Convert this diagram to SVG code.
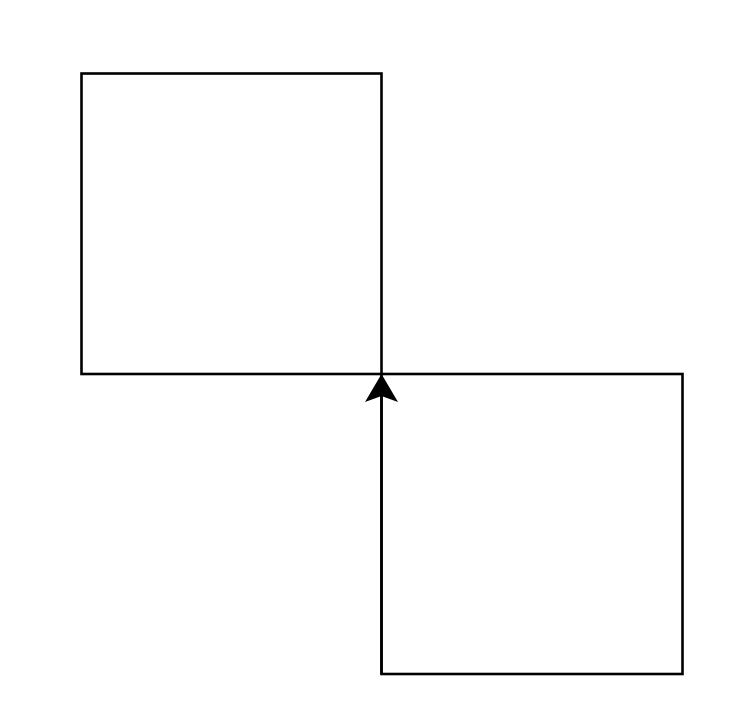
<svg xmlns="http://www.w3.org/2000/svg" width="738" height="726" viewBox="0 0 738 726">
<style>
.sq{fill:none;stroke:#000;stroke-width:2.6}
.edge{fill:none;stroke:#000;stroke-width:2.6}
</style>
<defs>
<marker id="ah" markerUnits="userSpaceOnUse" markerWidth="36" markerHeight="32" refX="0" refY="16" orient="auto" viewBox="-2 0 36 32">
<path d="M0,16 L28,0 L23,16 L28,32 Z" fill="#000"/>
</marker>
</defs>
<rect width="738" height="726" fill="#fff"/>
<g id="nodeA"><rect class="sq" x="81.5" y="73.5" width="300" height="300.5"/></g>
<g id="nodeB"><rect class="sq" x="381.5" y="374" width="301" height="300"/></g>
<g id="connectors">
<path class="edge" d="M381.5,674 L381.5,376"/>
<path d="M381.5,374 L365,402 L381.5,396 L398,402 Z" fill="#000"/>
</g>
</svg>
